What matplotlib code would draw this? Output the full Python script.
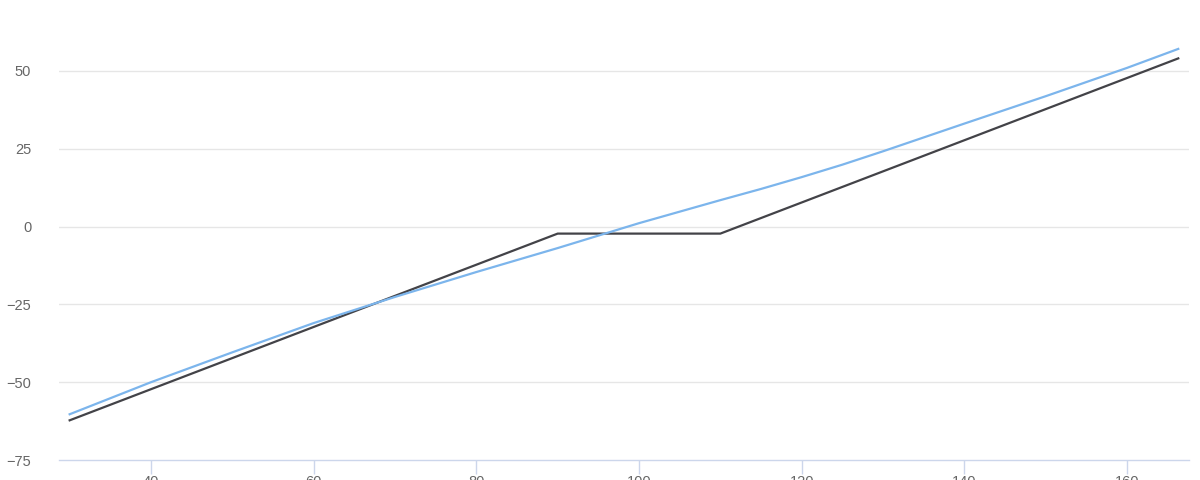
import matplotlib
matplotlib.use("Agg")
import matplotlib.pyplot as plt
from matplotlib.ticker import FixedLocator, FuncFormatter

# Data
blue_x = [30, 40, 50, 60, 70, 80, 90, 95, 100, 105, 110, 115, 120, 125, 130, 140, 150, 160, 166.3]
blue_y = [-60.3, -50.0, -40.4, -31.0, -22.6, -14.6, -6.9, -2.9, 1.1, 4.8, 8.5, 12.1, 15.9, 19.9, 24.2, 33.1, 41.9, 51.0, 57.1]

black_x = [30, 90, 110, 166.3]
black_y = [-62.25, -2.25, -2.25, 54.05]

x_ticks = [40, 60, 80, 100, 120, 140, 160]
y_ticks = [-75, -50, -25, 0, 25, 50, 75]

plt.rcParams['font.family'] = ['Liberation Sans', 'DejaVu Sans']

fig = plt.figure(figsize=(12, 4.8), dpi=100)
ax = fig.add_axes([59 / 1200, 20 / 480, 1130 / 1200, 466.8 / 480])

ax.set_xlim(28.69, 167.62)
ax.set_ylim(-75, 75)

for yv in y_ticks:
    if yv != -75:
        ax.axhline(yv, color='#e6e6e6', lw=1, zorder=0)

ax.plot(blue_x, blue_y, color='#7cb5ec', lw=1.6, zorder=3, solid_joinstyle='round')
ax.plot(black_x, black_y, color='#434348', lw=1.6, zorder=2, solid_joinstyle='round')

for s in ['top', 'right', 'left']:
    ax.spines[s].set_visible(False)
ax.spines['bottom'].set_color('#ccd6eb')
ax.spines['bottom'].set_linewidth(1)

ax.xaxis.set_major_locator(FixedLocator(x_ticks))
ax.yaxis.set_major_locator(FixedLocator(y_ticks))
ax.yaxis.set_major_formatter(FuncFormatter(lambda v, p: f"{int(v)}".replace('-', '\u2212')))
ax.tick_params(axis='x', colors='#ccd6eb', length=10, width=1, pad=0.5, labelcolor='#666666', labelsize=10.5)
ax.tick_params(axis='y', length=0, pad=20, labelcolor='#666666', labelsize=10.5)

fig.savefig('out.png', dpi=100)
